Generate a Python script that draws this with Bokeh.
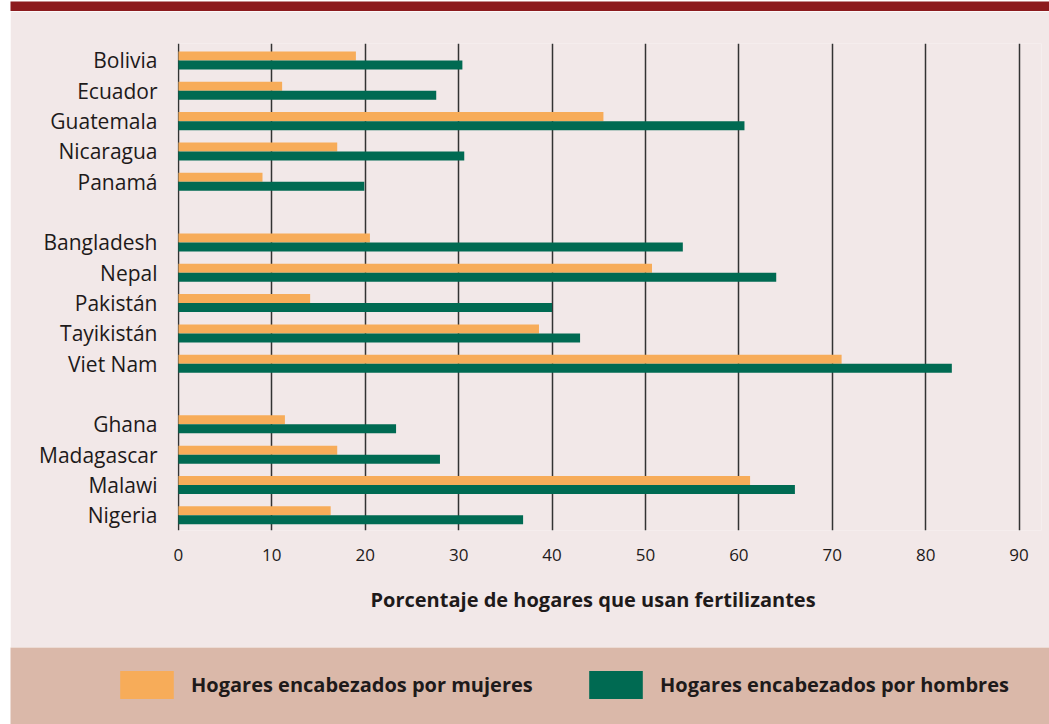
from bokeh.plotting import figure
from bokeh.models import Range1d, FixedTicker, ColumnDataSource, Legend, LegendItem, Spacer, Title
from bokeh.layouts import column, row
from bokeh.embed import file_html
from bokeh.resources import INLINE
from bokeh.transform import dodge

# ---------------- data ----------------
groups = [
    ["Bolivia", "Ecuador", "Guatemala", "Nicaragua", "Panamá"],
    ["Bangladesh", "Nepal", "Pakistán", "Tayikistán", "Viet Nam"],
    ["Ghana", "Madagascar", "Malawi", "Nigeria"],
]
women = [19.0, 11.1, 45.5, 17.0, 9.0,
         20.5, 50.7, 14.1, 38.6, 71.0,
         11.4, 17.0, 61.2, 16.3]
men = [30.4, 27.6, 60.6, 30.6, 19.9,
       54.0, 64.0, 40.0, 43.0, 82.8,
       23.3, 28.0, 66.0, 36.9]
x_ticks = [0, 10, 20, 30, 40, 50, 60, 70, 80, 90]
series_names = ["Hogares encabezados por mujeres", "Hogares encabezados por hombres"]
x_title = "Porcentaje de hogares que usan fertilizantes"

# ---------------- style ----------------
PANEL = "#F2E8E8"
BAND = "#DAB8A9"
RED = "#8C1B1E"
ORANGE = "#F7AC59"
GREEN = "#006A52"
GRID = "#333333"
TXT = "#1E1A1A"
FONT = "Open Sans"

# slot positions: one empty slot between groups
countries, positions = [], []
slot = 0
for g in groups:
    for c in g:
        countries.append(c)
        positions.append(slot)
        slot += 1
    slot += 1

src = ColumnDataSource(dict(pos=positions, women=women, men=men, country=countries))

W = 1039
BAR_H = 0.297

# top red strip
top = figure(width=W, height=11, toolbar_location=None, output_backend="svg",
             min_border=0, border_fill_color=RED, background_fill_color=RED,
             outline_line_color=None, x_range=Range1d(0, 1), y_range=Range1d(0, 1),
             frame_align=False)
top.axis.visible = False
top.grid.visible = False

# main chart
p = figure(width=W, height=636, toolbar_location=None, output_backend="svg",
           x_range=Range1d(-0.1, 92.4), y_range=Range1d(15.5, -0.56),
           min_border_left=167, min_border_right=8, min_border_top=32, min_border_bottom=117,
           background_fill_color=PANEL, border_fill_color=PANEL, outline_line_color=None,
           frame_align=False)

p.hbar(y=dodge("pos", -BAR_H / 2, range=p.y_range), left=0, right="women", height=BAR_H,
       fill_color=ORANGE, line_color=None, source=src)
p.hbar(y=dodge("pos", BAR_H / 2, range=p.y_range), left=0, right="men", height=BAR_H,
       fill_color=GREEN, line_color=None, source=src)

p.ygrid.grid_line_color = None
p.xgrid.ticker = FixedTicker(ticks=x_ticks)
p.xgrid.grid_line_color = GRID
p.xgrid.grid_line_width = 1.5

xa = p.xaxis[0]
xa.ticker = FixedTicker(ticks=x_ticks)
xa.axis_line_color = None
xa.major_tick_line_color = None
xa.minor_tick_line_color = None
xa.major_tick_out = 0
xa.major_label_standoff = 18
xa.major_label_text_font = FONT
xa.major_label_text_font_size = "17px"
xa.major_label_text_color = TXT

ya = p.yaxis[0]
ya.ticker = FixedTicker(ticks=positions)
ya.major_label_overrides = {pos: c for pos, c in zip(positions, countries)}
ya.axis_line_color = None
ya.major_tick_line_color = None
ya.minor_tick_line_color = None
ya.major_tick_out = 0
ya.major_label_standoff = 20
ya.major_label_text_font = FONT
ya.major_label_text_font_size = "21px"
ya.major_label_text_color = TXT

# x-axis title (slightly left of the frame centre, as in the original)
p.add_layout(Title(text=x_title, align="left", offset=193, standoff=40,
                   text_font=FONT, text_font_style="bold", text_font_size="20px",
                   text_color=TXT), "below")

# legend band
lf = figure(width=W, height=77, toolbar_location=None, output_backend="svg",
            min_border=0, border_fill_color=BAND, background_fill_color=BAND,
            outline_line_color=None, x_range=Range1d(0, 1), y_range=Range1d(0, 1),
            frame_align=False)
lf.axis.visible = False
lf.grid.visible = False
r1 = lf.hbar(y=[0], left=[0], right=[0], height=0, fill_color=ORANGE, line_color=None)
r2 = lf.hbar(y=[0], left=[0], right=[0], height=0, fill_color=GREEN, line_color=None)

for r, name, xloc in [(r1, series_names[0], 103), (r2, series_names[1], 572)]:
    leg = Legend(items=[LegendItem(label=name, renderers=[r])], location=(xloc, 22),
                 orientation="horizontal", glyph_width=67, glyph_height=35,
                 label_standoff=11, label_text_font=FONT, label_text_font_style="bold",
                 label_text_font_size="20px", label_text_color=TXT,
                 background_fill_alpha=0, border_line_color=None, padding=0, margin=0)
    lf.add_layout(leg)

layout = row(Spacer(width=10, height=724), column(top, p, lf, spacing=0), spacing=0)
open("out.html", "w").write(file_html(layout, INLINE))
